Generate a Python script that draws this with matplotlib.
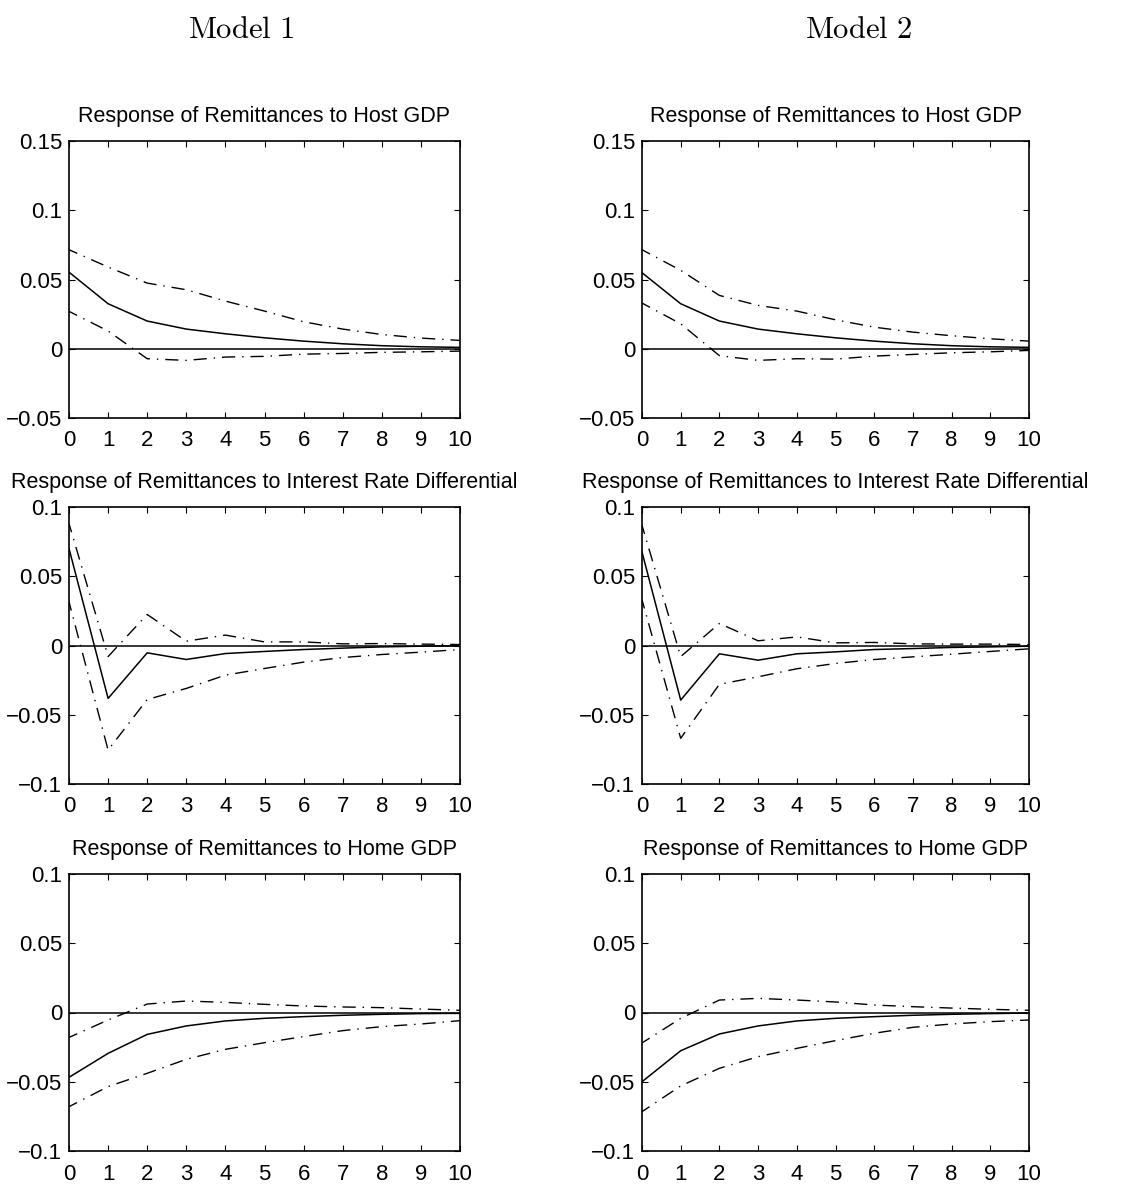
import matplotlib

matplotlib.use("Agg")
import matplotlib.pyplot as plt
import numpy as np

plt.rcParams["font.family"] = ["Liberation Sans", "DejaVu Sans"]
plt.rcParams["mathtext.fontset"] = "cm"

horizon = np.arange(11)

# Model 1
m1_host = [0.0553, 0.0325, 0.0200, 0.0142, 0.0108, 0.0079, 0.0055, 0.0036, 0.0022, 0.0014, 0.0010]
m1_host_hi = [0.0715, 0.0590, 0.0474, 0.0426, 0.0344, 0.0272, 0.0195, 0.0142, 0.0103, 0.0077, 0.0060]
m1_host_lo = [0.0270, 0.0128, -0.0072, -0.0084, -0.0060, -0.0055, -0.0039, -0.0034, -0.0026, -0.0022, -0.0017]

m1_irate = [0.0700, -0.0382, -0.0053, -0.0101, -0.0058, -0.0043, -0.0029, -0.0019, -0.0010, -0.0005, -0.0002]
m1_irate_hi = [0.0880, -0.0080, 0.0224, 0.0031, 0.0075, 0.0026, 0.0026, 0.0012, 0.0014, 0.0010, 0.0007]
m1_irate_lo = [0.0315, -0.0755, -0.0390, -0.0310, -0.0214, -0.0166, -0.0120, -0.0087, -0.0065, -0.0048, -0.0029]

m1_home = [-0.0468, -0.0295, -0.0158, -0.0097, -0.0061, -0.0042, -0.0030, -0.0020, -0.0013, -0.0008, -0.0006]
m1_home_hi = [-0.0180, -0.0054, 0.0061, 0.0083, 0.0073, 0.0059, 0.0047, 0.0040, 0.0035, 0.0025, 0.0016]
m1_home_lo = [-0.0680, -0.0535, -0.0439, -0.0338, -0.0266, -0.0218, -0.0174, -0.0131, -0.0102, -0.0083, -0.0059]

# Model 2
m2_host = [0.0549, 0.0325, 0.0200, 0.0142, 0.0108, 0.0079, 0.0055, 0.0036, 0.0022, 0.0014, 0.0010]
m2_host_hi = [0.0715, 0.0566, 0.0385, 0.0313, 0.0272, 0.0209, 0.0156, 0.0120, 0.0094, 0.0072, 0.0055]
m2_host_lo = [0.0330, 0.0180, -0.0050, -0.0084, -0.0072, -0.0075, -0.0053, -0.0041, -0.0029, -0.0022, -0.0012]

m2_irate = [0.0675, -0.0394, -0.0060, -0.0106, -0.0060, -0.0046, -0.0029, -0.0022, -0.0014, -0.0010, -0.0005]
m2_irate_hi = [0.0868, -0.0080, 0.0159, 0.0034, 0.0062, 0.0019, 0.0022, 0.0012, 0.0010, 0.0010, 0.0007]
m2_irate_lo = [0.0330, -0.0670, -0.0280, -0.0226, -0.0168, -0.0130, -0.0101, -0.0082, -0.0063, -0.0043, -0.0024]

m2_home = [-0.0500, -0.0276, -0.0155, -0.0097, -0.0061, -0.0042, -0.0030, -0.0020, -0.0013, -0.0008, -0.0004]
m2_home_hi = [-0.0220, -0.0042, 0.0090, 0.0102, 0.0090, 0.0076, 0.0054, 0.0042, 0.0032, 0.0023, 0.0016]
m2_home_lo = [-0.0716, -0.0530, -0.0403, -0.0319, -0.0259, -0.0203, -0.0150, -0.0107, -0.0083, -0.0066, -0.0054]

titles = [
    "Response of Remittances to Host GDP",
    "Response of Remittances to Interest Rate Differential",
    "Response of Remittances to Home GDP",
]

panels = [
    [(m1_host, m1_host_hi, m1_host_lo), (m2_host, m2_host_hi, m2_host_lo)],
    [(m1_irate, m1_irate_hi, m1_irate_lo), (m2_irate, m2_irate_hi, m2_irate_lo)],
    [(m1_home, m1_home_hi, m1_home_lo), (m2_home, m2_home_hi, m2_home_lo)],
]
ylims = [(-0.05, 0.15), (-0.1, 0.1), (-0.1, 0.1)]
yticks = [
    [-0.05, 0, 0.05, 0.1, 0.15],
    [-0.1, -0.05, 0, 0.05, 0.1],
    [-0.1, -0.05, 0, 0.05, 0.1],
]
ytick_labels = [
    ["\u22120.05", "0", "0.05", "0.1", "0.15"],
    ["\u22120.1", "\u22120.05", "0", "0.05", "0.1"],
    ["\u22120.1", "\u22120.05", "0", "0.05", "0.1"],
]

W, H = 1124, 1189
fig = plt.figure(figsize=(W / 100, H / 100), dpi=100)

col_x = [(69, 460), (642, 1029)]
row_y = [(141, 418), (507, 784), (874, 1151)]
dashdot = (3, (9.5, 5, 1, 5))

for r in range(3):
    for c in range(2):
        x0, x1 = col_x[c]
        y0, y1 = row_y[r]
        ax = fig.add_axes([x0 / W, 1 - y1 / H, (x1 - x0) / W, (y1 - y0) / H])
        mid, hi, lo = panels[r][c]
        ax.plot(horizon, hi, color="black", lw=1.0, linestyle=dashdot)
        ax.plot(horizon, lo, color="black", lw=1.0, linestyle=dashdot)
        ax.plot(horizon, mid, color="black", lw=1.1)
        ax.plot([horizon[0], horizon[-1]], [0, 0], color="black", lw=1.1)
        ax.set_xlim(0, 10)
        ax.set_ylim(*ylims[r])
        ax.set_xticks(horizon)
        ax.set_yticks(yticks[r], ytick_labels[r])
        ax.tick_params(direction="in", top=True, right=True, length=4, width=0.8, labelsize=16)
        ax.tick_params(axis="x", pad=9)
        ax.tick_params(axis="y", pad=5)
        for sp in ax.spines.values():
            sp.set_linewidth(1.2)
        ax.set_title(titles[r], fontsize=15.5, pad=14)

fig.text(241 / W, 1 - 38 / H, r"$\mathrm{Model\ 1}$", fontsize=22, ha="center", va="baseline")
fig.text(858 / W, 1 - 38 / H, r"$\mathrm{Model\ 2}$", fontsize=22, ha="center", va="baseline")

fig.savefig("out.png", dpi=100)
